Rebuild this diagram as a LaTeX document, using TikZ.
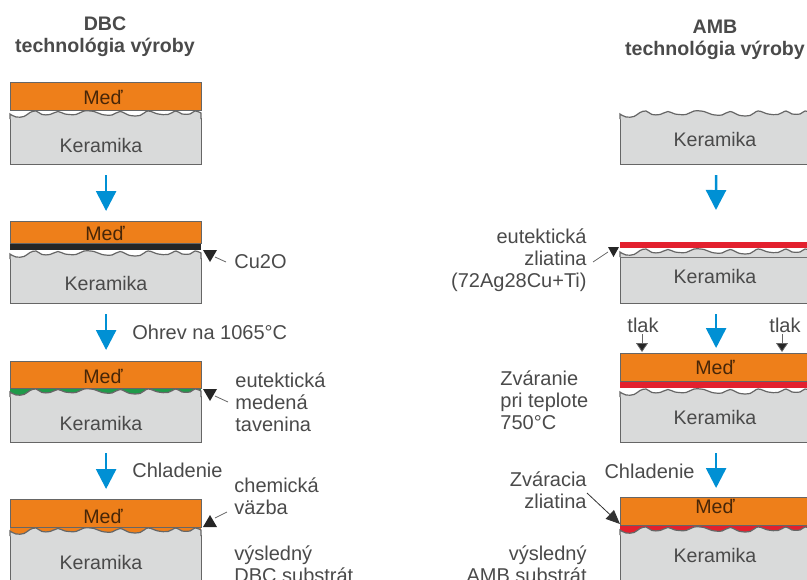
\documentclass[tikz,border=0pt]{standalone}
\usepackage{fontspec}
\setmainfont{Liberation Sans}
\usepackage{xcolor}
\usetikzlibrary{arrows.meta,positioning,calc}

\definecolor{medcolor}{HTML}{EE7F1A}
\definecolor{kercolor}{HTML}{D9DADA}
\definecolor{edgecolor}{HTML}{666666}
\definecolor{zliatcolor}{HTML}{E3202E}
\definecolor{zelcolor}{HTML}{1F9A4A}
\definecolor{txtcolor}{HTML}{4A4A4A}
\definecolor{flowcolor}{HTML}{0090D4}

\tikzset{
  every node/.style={font=\fontsize{10}{11}\selectfont,text=txtcolor,inner sep=0pt},
  layer/.style={minimum width=95.5pt,anchor=north west,draw=edgecolor,line width=0.6pt},
  med/.style={layer,fill=medcolor},
  ker/.style={layer,fill=kercolor},
  medtext/.style={font=\fontsize{9.8}{11}\selectfont,text=black!70!medcolor},
  kertext/.style={font=\fontsize{9.8}{11}\selectfont},
  thin layer/.style={minimum width=95.5pt,anchor=north west,fill=#1},
  title/.style={font=\fontsize{9.8}{11}\selectfont\bfseries,align=center},
  flow/.style={-{Triangle[length=10pt,width=10pt]},flowcolor,line width=1.3pt},
  tick/.style={-{Triangle[length=4.5pt,width=6pt,fill=black!85]},edgecolor,line width=0.4pt},
  wave/.pic={
    \fill[#1] (0,0) rectangle (191,8);
    \filldraw[fill=kercolor,draw=edgecolor,line width=0.6pt] (0,9) -- plot[smooth,tension=0.6] coordinates {(0,4) (6,7) (14,6.5) (20,2.5) (26,1) (32,4.5) (40,4.5) (48,1.5) (55,4) (66,4.5) (74,1) (84,1.5) (92,4.5) (102,5) (110,1.5) (120,5.5) (130,5.5) (138,1) (148,4) (158,4.5) (166,1) (172,4) (180,4) (185,1) (191,3)} -- (191,9);
  }
}

\begin{document}
\begin{tikzpicture}[x=0.5pt,y=-0.5pt,>=Latex]
  \clip (0,0) rectangle (807,579);
  \node[title] (dbctitle) at (105,37) {DBC\\technológia výroby};
  \node[title] (ambtitle) at (715,40) {AMB\\technológia výroby};

  % DBC
  \node[ker,minimum height=23pt] (dbcker1) at (10,118) {};
  \pic at (10,110) {wave=white};
  \node[med,minimum height=14pt] (dbcmed1) at (10,82) {};
  \node[medtext] (dbcmedt1) at (103,97) {Meď};
  \node[kertext] (dbckert1) at (101,145) {Keramika};

  \node[ker,minimum height=22.5pt] (dbcker2) at (10,258) {};
  \pic at (10,250) {wave=white};
  \node[thin layer=black!85,minimum height=3.5pt] (dbcoxid) at (10,243) {};
  \node[med,minimum height=11pt] (dbcmed2) at (10,221) {};
  \node[medtext] (dbcmedt2) at (105,233) {Meď};
  \node[kertext] (dbckert2) at (106,283) {Keramika};

  \node[ker,minimum height=23pt] (dbcker3) at (10,396) {};
  \pic at (10,388) {wave=zelcolor};
  \node[med,minimum height=13.5pt] (dbcmed3) at (10,361) {};
  \node[medtext] (dbcmedt3) at (103,376) {Meď};
  \node[kertext] (dbckert3) at (101,423) {Keramika};

  \node[ker,minimum height=24pt] (dbcker4) at (10,535) {};
  \pic at (10,527) {wave=medcolor};
  \node[med,minimum height=14pt] (dbcmed4) at (10,499) {};
  \node[medtext] (dbcmedt4) at (103,516) {Meď};
  \node[kertext] (dbckert4) at (101,562) {Keramika};

  \draw[flow,shorten <=5pt,shorten >=5pt] (dbcker1.south) -- (dbcmed2.north);
  \draw[flow,shorten <=5pt,shorten >=5.5pt] (dbcker2.south) -- (dbcmed3.north);
  \draw[flow,shorten <=5pt,shorten >=5pt] (dbcker3.south) -- (dbcmed4.north);

  \node[anchor=west] (cuoxid) at (234,262) {Cu2O};
  \node[anchor=west] (ohrev) at (132,332) {Ohrev na 1065°C};
  \node[anchor=west,align=left] (tavenina) at (235,402) {eutektická\\medená\\tavenina};
  \node[anchor=west] (chladdbc) at (132,470) {Chladenie};
  \node[anchor=west,align=left] (vazba) at (234,496) {chemická\\väzba};
  \node[anchor=west,align=left] (vysldbc) at (234,564) {výsledný\\DBC substrát};

  \coordinate (tipoxid) at (215,257);
  \coordinate (tiptav) at (215,396);
  \coordinate (tipvaz) at (215,518);
  \draw[edgecolor,line width=0.4pt] (cuoxid.west) ++(-8,0) -- (tipoxid);
  \draw[edgecolor,line width=0.4pt] (228,402) -- (tiptav);
  \draw[edgecolor,line width=0.4pt] (227,512) -- (tipvaz);
  \foreach \tx/\ty in {203/250,203/389}
    \fill[black!85] (\tx,\ty) -- ++(14,0) -- ++(-7,12) -- cycle;
  \fill[black!85] (203,527) -- ++(14,0) -- ++(-7,-12) -- cycle;

  % AMB
  \node[ker,minimum height=23pt] (ambker1) at (620,118) {};
  \pic at (620,110) {wave=white};
  \node[kertext] (ambkert1) at (715,139) {Keramika};

  \node[ker,minimum height=23pt] (ambker2) at (620,257) {};
  \pic at (620,248) {wave=white};
  \node[thin layer=zliatcolor,minimum height=3pt] (ambzl2) at (620,242) {};
  \node[kertext] (ambkert2) at (715,276) {Keramika};

  \node[ker,minimum height=23pt] (ambker3) at (620,396) {};
  \pic at (620,388) {wave=white};
  \node[thin layer=zliatcolor,minimum height=3.5pt] (ambzl3) at (620,381) {};
  \node[med,minimum height=14pt] (ambmed3) at (620,353) {};
  \node[medtext] (ambmedt3) at (715,367) {Meď};
  \node[kertext] (ambkert3) at (715,417) {Keramika};

  \node[ker,minimum height=27pt] (ambker4) at (620,534) {};
  \pic at (620,526) {wave=zliatcolor};
  \node[med,minimum height=14pt] (ambmed4) at (620,497) {};
  \node[medtext] (ambmedt4) at (715,506) {Meď};
  \node[kertext] (ambkert4) at (715,555) {Keramika};

  \draw[flow,shorten <=5pt,shorten >=16pt] (ambker1.south) -- (ambzl2.north);
  \draw[flow,shorten <=5pt,shorten >=2.5pt] (ambker2.south) -- (ambmed3.north);
  \draw[flow,shorten <=5pt,shorten >=4.5pt] (ambker3.south) -- (ambmed4.north);

  \node[align=right,anchor=east] (ambeut) at (587,260) {eutektická\\zliatina\\(72Ag28Cu+Ti)};
  \node (tlakl) at (643,325) {tlak};
  \node (tlakr) at (785,325) {tlak};
  \node[align=left,anchor=west] (zvaranie) at (500,400) {Zváranie\\pri teplote\\750°C};
  \node[anchor=east] (chladamb) at (695,471) {Chladenie};
  \node[align=right,anchor=east] (zvzl) at (587,490) {Zváracia\\zliatina};
  \node[align=right,anchor=east] (vyslamb) at (587,564) {výsledný\\AMB substrát};

  \coordinate (tiplakl) at (642,352);
  \coordinate (tiplakr) at (782,352);
  \coordinate (tipeut) at (608,252);
  \coordinate (tipzv) at (620,524);
  \draw[tick] (tlakl.south) ++(-1,1) -- (tiplakl);
  \draw[tick] (tlakr.south) ++(-3,1) -- (tiplakr);
  \draw[edgecolor,line width=0.4pt] (593,262) -- (tipeut);
  \fill[black!85] (608,247) -- ++(11,0) -- ++(-5.5,10) -- cycle;
  \draw[-{Triangle[length=7pt,width=6pt]},black!80,line width=0.4pt] (587,493) -- (tipzv);
\end{tikzpicture}
\end{document}
